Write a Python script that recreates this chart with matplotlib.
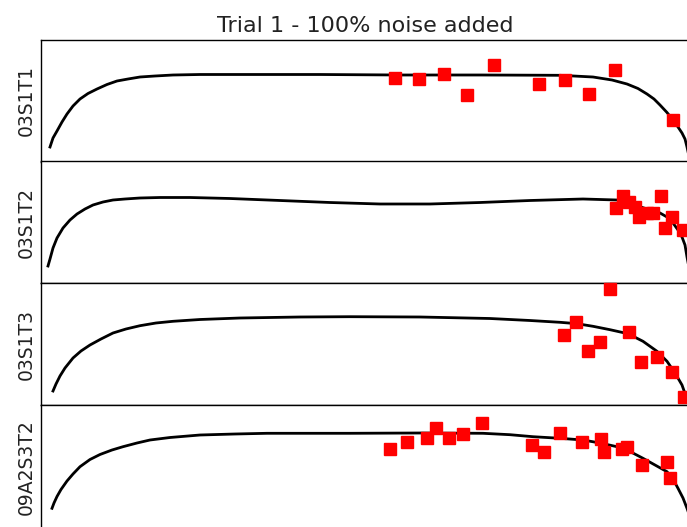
import numpy as np
import matplotlib
matplotlib.use("Agg")
import matplotlib.pyplot as plt

# values: x position and height above panel floor
labels = ["03S1T1", "03S1T2", "03S1T3", "09A2S3T2"]

fit_x1 = [50, 53, 57, 62, 67, 73, 80, 88, 97, 107, 117, 128, 140, 155, 173, 200,
          250, 320, 400, 480, 560, 593, 612, 627, 638, 647, 654, 660, 667, 673,
          678, 682, 685, 687, 690]
fit_y1 = [15, 24, 31, 40, 48, 56, 63, 68.5, 73, 77.5, 81, 83, 85, 86, 87, 87.5,
          87.5, 87.5, 87, 87, 86.7, 85, 82, 78, 73.5, 68, 63, 57, 49.5, 42,
          35, 29, 23, 15, 1]
obs_x1 = [395, 419, 444, 467, 494, 539, 565, 589, 615, 673]
obs_y1 = [84, 83, 88, 67, 97, 78, 82, 68, 92, 42]

fit_x2 = [48, 50, 53, 57, 63, 70, 77, 85, 93, 103, 113, 125, 140, 160, 190, 230,
          280, 330, 380, 430, 480, 530, 583, 617, 630, 640, 650, 660, 667, 673,
          678, 682, 685, 687, 690]
fit_y2 = [17, 24, 35, 45, 55, 63, 69, 74, 78, 81, 83, 84, 85, 85.5, 85.5, 84.5,
          82.5, 80.5, 79, 79, 80.5, 82.5, 84, 83, 80, 76.3, 73, 70, 66, 60,
          53, 46, 38, 26, 10]
obs_x2 = [616, 623, 629, 635, 639, 647, 653, 661, 665, 672, 683]
obs_y2 = [75, 87, 81, 76, 66, 70, 70, 87, 55, 66, 53]

fit_x3 = [53, 56, 60, 65, 73, 81, 90, 101, 113, 126, 140, 156, 173, 200, 240, 300,
          350, 420, 490, 530, 560, 577, 593, 610, 628, 643, 657, 667, 675, 682,
          686, 689]
fit_y3 = [14, 21, 29, 37, 47, 54, 60, 66, 72, 76, 79.3, 82, 83.7, 85.5, 87, 88,
          88.3, 88, 86.5, 84.5, 82.7, 81.3, 78.7, 75.3, 71.3, 63.7, 53.7, 43.7, 32, 20,
          8.7, 0]
obs_x3 = [610, 576, 564, 600, 588, 629, 641, 657, 672, 684]
obs_y3 = [116, 83, 70, 63, 54, 73, 43, 48, 33, 8]

fit_x4 = [52, 54, 57, 61, 67, 73, 80, 90, 100, 112, 123, 137, 150, 170, 200, 235,
          267, 350, 420, 483, 510, 533, 560, 583, 600, 617, 630, 643, 655, 667,
          673, 678, 683, 687, 690]
fit_y4 = [18.7, 24, 30.5, 37.5, 46, 53, 60.3, 67.5, 72.5, 77, 80.3, 84, 87, 89.5, 92, 93,
          93.7, 93.7, 94, 93.7, 92.3, 90.3, 88.7, 87, 84, 80.3, 75.5, 68.7, 62, 55.3,
          48, 38.7, 29, 18.7, 10]
obs_x4 = [390, 407, 427, 436, 449, 463, 482, 532, 544, 560, 582, 601, 604, 622,
          627, 642, 667, 670]
obs_y4 = [78, 85, 89, 99, 89, 93, 104, 82, 75, 94, 85, 88, 75, 78, 80, 62, 65, 49]

fits = [(fit_x1, fit_y1), (fit_x2, fit_y2), (fit_x3, fit_y3), (fit_x4, fit_y4)]
obs = [(obs_x1, obs_y1), (obs_x2, obs_y2), (obs_x3, obs_y3), (obs_x4, obs_y4)]

W, H = 687, 527
fig = plt.figure(figsize=(W / 100, H / 100), dpi=100)

left, right = 41, 690
tops = [40, 161, 283, 405]
ph = 122

for i in range(4):
    top = tops[i]
    extra = 3 if i == 3 else 0  # last panel runs past the bottom edge
    ax = fig.add_axes([left / W, (H - top - ph - extra) / H, (right - left) / W,
                       (ph + extra) / H])
    ax.plot(fits[i][0], fits[i][1], color="black", lw=2, zorder=2,
            solid_joinstyle="round")
    ax.plot(obs[i][0], obs[i][1], "s", color="red", ms=8.6, zorder=3, clip_on=False)
    ax.set_xlim(left, right)
    ax.set_ylim(-extra, ph)
    ax.set_xticks([])
    ax.set_yticks([])
    ax.set_ylabel(labels[i], fontsize=13.5, labelpad=4, color="#222222")
    for s in ax.spines.values():
        s.set_linewidth(1)
    if i == 0:
        ax.set_title("Trial 1 - 100% noise added", fontsize=16, pad=6,
                     color="#222222")

fig.savefig("out.png", dpi=100)
